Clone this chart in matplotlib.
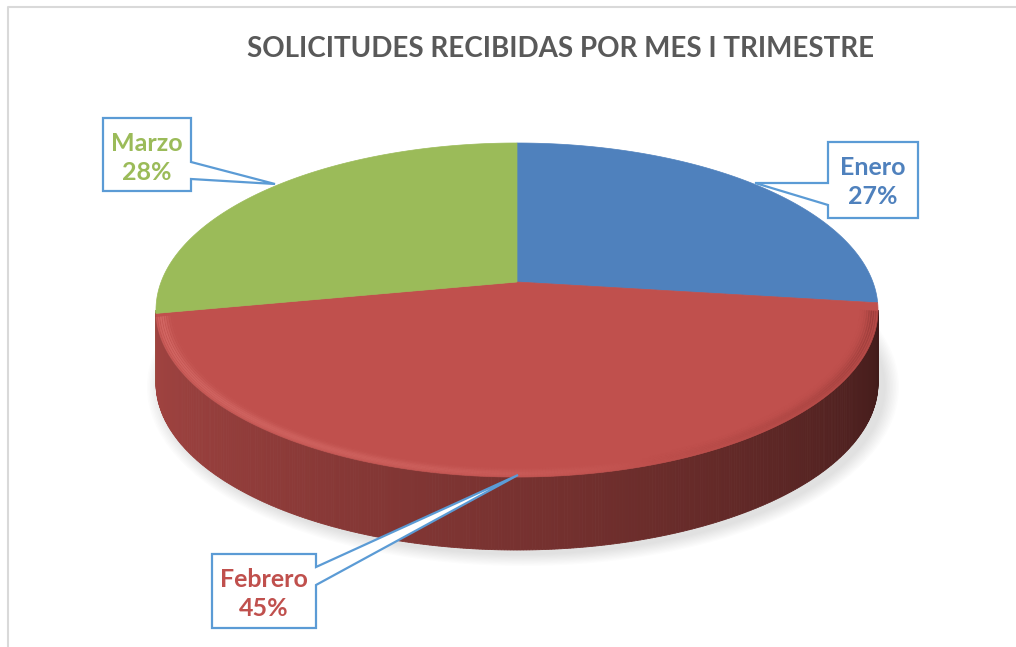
import numpy as np
import matplotlib
matplotlib.use('Agg')
import matplotlib.pyplot as plt
from matplotlib.patches import Polygon, Ellipse
from matplotlib.collections import LineCollection

# datos del gráfico
meses = ['Enero', 'Febrero', 'Marzo']
porcentajes = [27, 45, 28]
colores = ['#4f81bd', '#c0504d', '#9bbb59']
titulo = 'SOLICITUDES RECIBIDAS POR MES I TRIMESTRE'

W, H = 1016, 647
fig = plt.figure(figsize=(W / 100, H / 100), dpi=100)
ax = fig.add_axes([0, 0, 1, 1])
ax.set_xlim(0, W)
ax.set_ylim(H, 0)
ax.axis('off')

# geometría del pastel 3D (en píxeles)
cx, cy, a, b, prof = 517, 310, 361, 167, 73
# perspectiva: el centro del disco se ve desplazado hacia arriba
phi = np.arctanh(28.0 / b)
ch, sh = np.cosh(phi), np.sinh(phi)


def punto(t, r=1.0):
    t = np.radians(t)
    u, v = r * np.cos(t), r * np.sin(t)
    w = v * sh + ch
    up, vp = u / w, (v * ch + sh) / w
    return cx + a * up, cy - b * vp


def angulo_real(s):
    # ángulo en pantalla (elipse) -> ángulo en el disco
    s = np.radians(s)
    up, vp = np.cos(s), np.sin(s)
    w = ch - vp * sh
    return np.degrees(np.arctan2((vp * ch - sh) / w, up / w))


# ángulos de las porciones: empieza en 90° y gira en sentido horario
total = sum(porcentajes)
limites = [90.0]
for v in porcentajes:
    limites.append(limites[-1] - 360.0 * v / total)


def porcion_de(t):
    for i in range(len(porcentajes)):
        hi, lo = limites[i], limites[i + 1]
        tt = t
        while tt > hi:
            tt -= 360
        while tt < lo:
            tt += 360
        if lo <= tt <= hi:
            return i
    return 0


# sombra bajo el pastel
for k in range(10):
    ax.add_patch(Ellipse((cx + 6, cy + prof + 4), 2 * a + 30 - 3 * k, 2 * b + 24 - 2.5 * k,
                         color='#808080', alpha=0.025, lw=0, zorder=1))

# pared lateral (mitad frontal) con sombreado
ss = np.linspace(180, 360, 361)
for s0, s1 in zip(ss[:-1], ss[1:]):
    sm = 0.5 * (s0 + s1)
    i = porcion_de(angulo_real(sm))
    base = np.array(matplotlib.colors.to_rgb(colores[i]))
    f = (sm - 180) / 180.0
    luz = 0.84 - 0.50 * f ** 1.2
    col = np.clip(base * luz, 0, 1)
    p0 = (cx + a * np.cos(np.radians(s0)), cy - b * np.sin(np.radians(s0)))
    p1 = (cx + a * np.cos(np.radians(s1)), cy - b * np.sin(np.radians(s1)))
    quad = [p0, p1, (p1[0], p1[1] + prof), (p0[0], p0[1] + prof)]
    ax.add_patch(Polygon(quad, closed=True, fc=col, ec=col, lw=0.6, zorder=2))

# cara superior
for i in range(len(porcentajes)):
    tt = np.linspace(limites[i], limites[i + 1], 200)
    xs, ys = punto(tt)
    pts = [punto(0, r=0.0)] + list(zip(xs, ys))
    ax.add_patch(Polygon(pts, closed=True, fc=colores[i], ec=colores[i], lw=0.5, zorder=3))

# bisel: brillo claro a la izquierda, sombra a la derecha del borde frontal
tt = np.linspace(192, 350, 400)
segs, cols = [], []
for d in np.linspace(0, 10, 11):
    r = 1.0 - d / b
    xs, ys = punto(tt, r=r)
    for j in range(len(tt) - 1):
        f = (tt[j] - 192) / 158.0
        fade = np.exp(-((d - 2.5) / 2.8) ** 2)
        if f < 0.6:
            c = (1.0, 0.62, 0.60, 0.32 * fade * (1 - f / 0.6) ** 0.6)
        else:
            c = (0.30, 0.08, 0.07, 0.30 * fade * ((f - 0.6) / 0.4))
        segs.append([(xs[j], ys[j]), (xs[j + 1], ys[j + 1])])
        cols.append(c)
ax.add_collection(LineCollection(segs, colors=cols, linewidths=1.2, zorder=4))

# etiquetas con globo
azul = '#5b9bd5'
globos = {
    'Marzo': [(103, 118), (191, 118), (191, 162), (275, 184), (191, 179), (191, 191), (103, 191)],
    'Enero': [(828, 142), (918, 142), (918, 218), (828, 218), (828, 205), (755, 183), (828, 183)],
    'Febrero': [(212, 554), (316, 554), (316, 567), (518, 475), (316, 585), (316, 628), (212, 628)],
}
centros = {'Marzo': (147, 158), 'Enero': (873, 182), 'Febrero': (264, 594)}
for i, mes in enumerate(meses):
    ax.add_patch(Polygon(globos[mes], closed=True, fc='white', ec=azul, lw=1.6, zorder=6))
    x, y = centros[mes]
    ax.text(x, y, f'{mes}\n{porcentajes[i]}%', ha='center', va='center', fontsize=18,
            fontweight='bold', family='Lato', color=colores[i], linespacing=1.33, zorder=7)

# título
ax.text(561, 49, titulo, ha='center', va='center', fontsize=20, fontweight='bold',
        family='Lato', color='#595959')

# marco del gráfico
ax.plot([7.5, 7.5, W], [H, 6.5, 6.5], color='#d9d9d9', lw=1.5, zorder=8)

fig.savefig('out.png', dpi=100)
